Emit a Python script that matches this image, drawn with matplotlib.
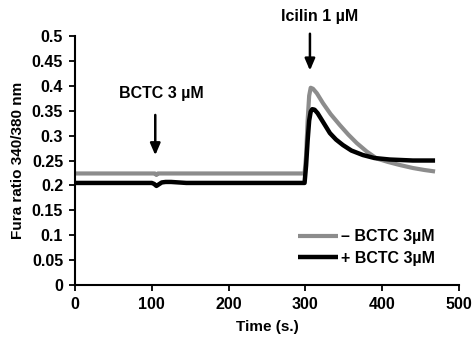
import matplotlib
matplotlib.use("Agg")
import matplotlib.pyplot as plt

# traces
t_ctrl = [0, 100, 104, 106, 108, 112, 200, 299, 301, 303, 305, 307, 310, 315,
          323, 333, 345, 356, 367, 380, 393, 408, 423, 440, 455, 469]
ratio_ctrl = [0.224, 0.224, 0.224, 0.221, 0.224, 0.224, 0.224, 0.224, 0.26, 0.33,
              0.38, 0.396, 0.394, 0.385, 0.365, 0.343, 0.321, 0.302, 0.285, 0.268,
              0.254, 0.247, 0.241, 0.235, 0.231, 0.228]

t_bctc = [0, 100, 103, 106, 109, 113, 118, 125, 135, 145, 200, 299, 301, 303, 305,
          307, 309, 312, 316, 320, 326, 332, 340, 349, 360, 375, 390, 410, 440, 469]
ratio_bctc = [0.205, 0.205, 0.203, 0.199, 0.202, 0.206, 0.207, 0.207, 0.206, 0.205,
              0.205, 0.205, 0.24, 0.29, 0.33, 0.348, 0.353, 0.352, 0.345, 0.335,
              0.32, 0.305, 0.292, 0.281, 0.27, 0.261, 0.255, 0.252, 0.250, 0.250]

labels = ["\u2013 BCTC 3\u00b5M", "+ BCTC 3\u00b5M"]
xticks = [0, 100, 200, 300, 400, 500]
yticks = [0, 0.05, 0.1, 0.15, 0.2, 0.25, 0.3, 0.35, 0.4, 0.45, 0.5]
ytick_labels = ["0", "0.05", "0.1", "0.15", "0.2", "0.25", "0.3", "0.35", "0.4", "0.45", "0.5"]

plt.rcParams["font.family"] = ["Liberation Sans", "DejaVu Sans"]
plt.rcParams["font.weight"] = "bold"

fig = plt.figure(figsize=(4.75, 3.39), dpi=100)
ax = fig.add_axes([0.158, 0.159, 0.808, 0.735])

ax.plot(t_ctrl, ratio_ctrl, color="#8c8c8c", lw=3, label=labels[0], solid_capstyle="butt")
ax.plot(t_bctc, ratio_bctc, color="black", lw=3.2, label=labels[1], solid_capstyle="butt")

ax.set_xlim(0, 500)
ax.set_ylim(0, 0.5)
ax.set_xticks(xticks)
ax.set_yticks(yticks)
ax.set_yticklabels(ytick_labels)
ax.tick_params(direction="out", length=4.5, width=1.3, labelsize=11.5, pad=4)
for lab in ax.get_xticklabels() + ax.get_yticklabels():
    lab.set_fontweight("bold")
for s in ["top", "right"]:
    ax.spines[s].set_visible(False)
for s in ["left", "bottom"]:
    ax.spines[s].set_linewidth(1.5)

ax.set_xlabel("Time (s.)", fontsize=11, fontweight="bold", labelpad=6)
ax.set_ylabel("Fura ratio 340/380 nm", fontsize=11, fontweight="bold", labelpad=5)

# drug additions
ax.annotate("", xy=(104.5, 0.255), xytext=(104.5, 0.347),
            arrowprops=dict(arrowstyle="-|>,head_width=0.3,head_length=0.7", color="black", lw=1.8))
ax.text(113, 0.385, "BCTC 3 \u00b5M", ha="center", va="center", fontsize=11.5, fontweight="bold")
ax.annotate("", xy=(306, 0.425), xytext=(306, 0.51), annotation_clip=False,
            arrowprops=dict(arrowstyle="-|>,head_width=0.3,head_length=0.7", color="black", lw=1.8))
ax.text(319, 0.54, "Icilin 1 \u00b5M", ha="center", va="center", fontsize=11.5,
        fontweight="bold", clip_on=False)

ax.legend(loc="lower right", bbox_to_anchor=(0.975, 0.02), frameon=False, fontsize=11.5,
          handlelength=2.5, handletextpad=0.2, labelspacing=0.4)

fig.savefig("out.png", dpi=100)
